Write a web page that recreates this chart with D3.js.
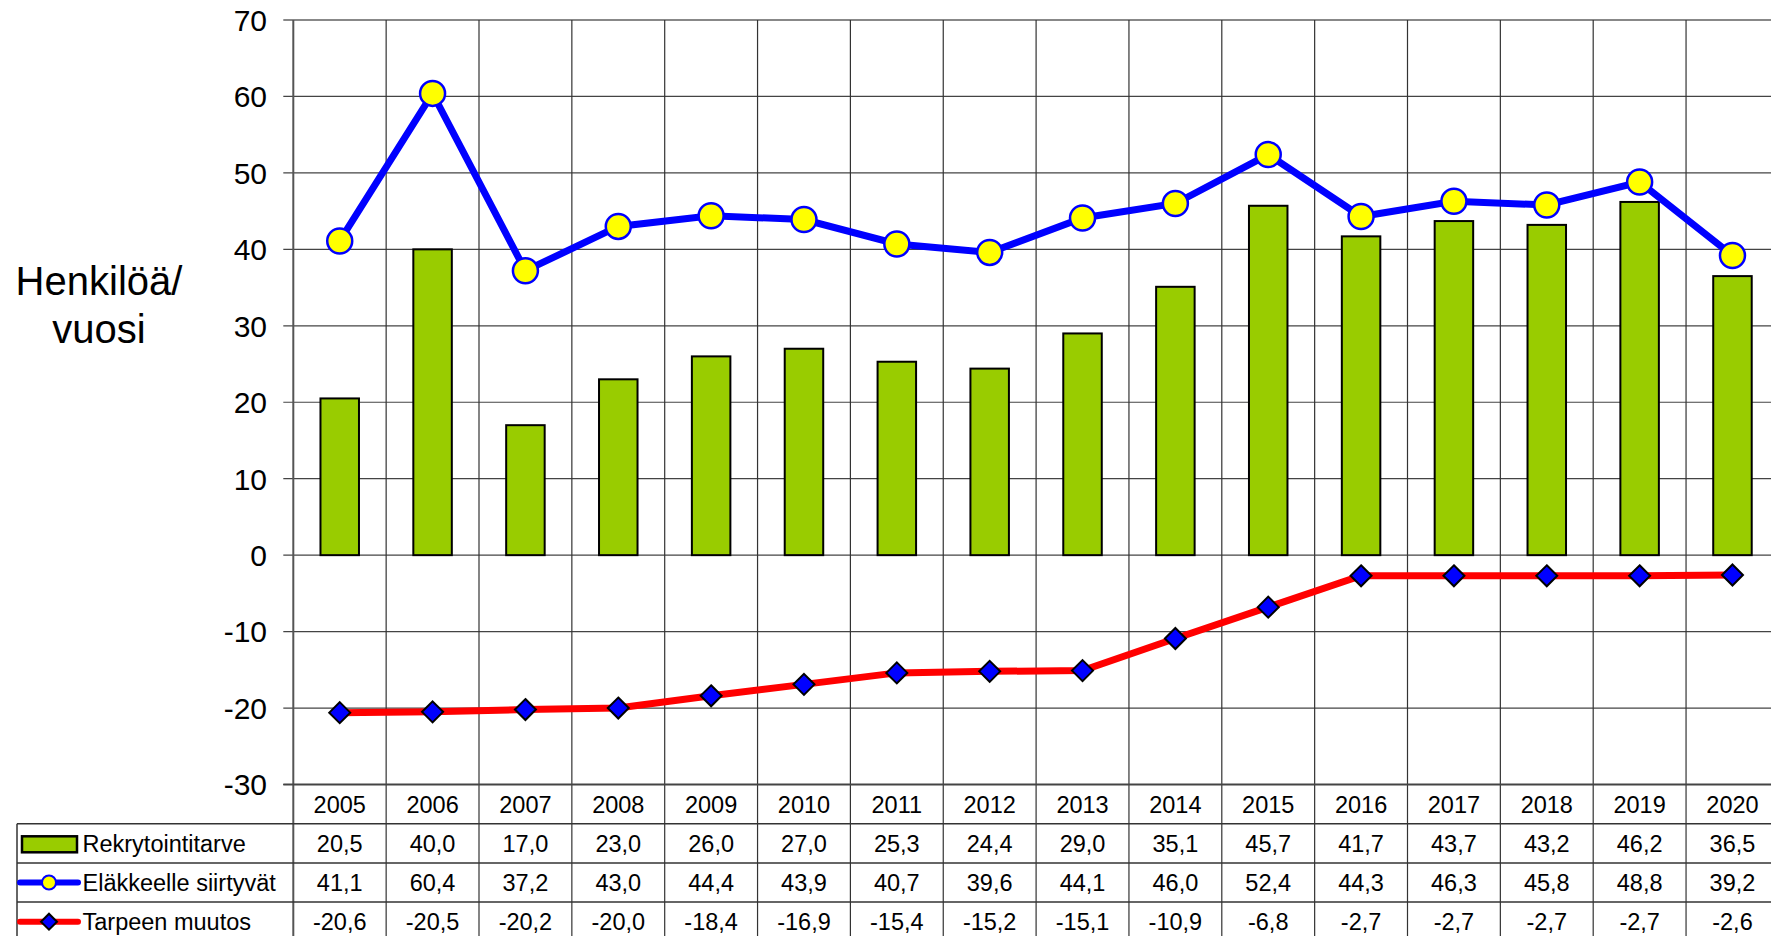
<!DOCTYPE html>
<html>
<head>
<meta charset="utf-8">
<script src="https://cdn.jsdelivr.net/npm/d3@7"></script>
<style>
  body { margin: 0; background: #fff; }
  svg { display: block; font-family: "Liberation Sans", Arial, sans-serif; }
</style>
</head>
<body>
<div id="chart"></div>
<script>
const years = ["2005","2006","2007","2008","2009","2010","2011","2012","2013","2014","2015","2016","2017","2018","2019","2020"];
const rekrytointitarve = [20.5, 40.0, 17.0, 23.0, 26.0, 27.0, 25.3, 24.4, 29.0, 35.1, 45.7, 41.7, 43.7, 43.2, 46.2, 36.5];
const elakkeelle = [41.1, 60.4, 37.2, 43.0, 44.4, 43.9, 40.7, 39.6, 44.1, 46.0, 52.4, 44.3, 46.3, 45.8, 48.8, 39.2];
const tarpeenMuutos = [-20.6, -20.5, -20.2, -20.0, -18.4, -16.9, -15.4, -15.2, -15.1, -10.9, -6.8, -2.7, -2.7, -2.7, -2.7, -2.6];
const yTicks = [70, 60, 50, 40, 30, 20, 10, 0, -10, -20, -30];
const seriesNames = ["Rekrytointitarve", "Eläkkeelle siirtyvät", "Tarpeen muutos"];

const W = 1771, H = 936;
const plot = {left: 293.3, top: 20, bottom: 784.5, colW: 92.85};
const tableLeft = 17;
const rowH = 39.2;

const svg = d3.select("#chart").append("svg")
  .attr("width", W).attr("height", H);

const x = d3.scaleBand()
  .domain(years)
  .range([plot.left, plot.left + plot.colW * years.length])
  .paddingInner(0).paddingOuter(0);

const y = d3.scaleLinear()
  .domain([-30, 70])
  .range([plot.bottom, plot.top]);

const plotRight = plot.left + plot.colW * years.length;
const fmt = v => d3.format(".1f")(v).replace(".", ",").replace("−", "-");

// horizontal grid
svg.append("g")
  .selectAll("line")
  .data(yTicks)
  .join("line")
  .attr("x1", plot.left - 10)
  .attr("x2", plotRight)
  .attr("y1", d => y(d))
  .attr("y2", d => y(d))
  .attr("stroke", d => d === 70 ? "#888" : "#444")
  .attr("stroke-width", d => d === 70 ? 2 : 1.2);

// vertical grid (column boundaries, plot and table)
const tableBottom = plot.bottom + rowH * 4;
svg.append("g")
  .selectAll("line")
  .data(years.slice(1))
  .join("line")
  .attr("x1", d => x(d))
  .attr("x2", d => x(d))
  .attr("y1", plot.top)
  .attr("y2", tableBottom)
  .attr("stroke", "#333")
  .attr("stroke-width", 1.2);

// left axis line
svg.append("line")
  .attr("x1", plot.left).attr("x2", plot.left)
  .attr("y1", plot.top).attr("y2", tableBottom)
  .attr("stroke", "#555").attr("stroke-width", 2);

// y tick labels
svg.append("g")
  .selectAll("text")
  .data(yTicks)
  .join("text")
  .attr("x", 267)
  .attr("y", d => y(d))
  .attr("dy", "0.36em")
  .attr("text-anchor", "end")
  .attr("font-size", 30)
  .text(d => d);

// y axis title
const yTitle = svg.append("text")
  .attr("text-anchor", "middle")
  .attr("font-size", 40);
yTitle.append("tspan").attr("x", 99).attr("y", 295).text("Henkilöä/");
yTitle.append("tspan").attr("x", 99).attr("y", 343).text("vuosi");

// bars
const barW = 38.5;
svg.append("g")
  .selectAll("rect")
  .data(rekrytointitarve)
  .join("rect")
  .attr("x", (d, i) => x(years[i]) + x.bandwidth() / 2 - barW / 2)
  .attr("width", barW)
  .attr("y", d => y(d))
  .attr("height", d => y(0) - y(d))
  .attr("fill", "#99cc00")
  .attr("stroke", "#000")
  .attr("stroke-width", 2);

const cx = i => x(years[i]) + x.bandwidth() / 2;

// red line
svg.append("path")
  .datum(tarpeenMuutos)
  .attr("fill", "none")
  .attr("stroke", "#ff0000")
  .attr("stroke-width", 7)
  .attr("d", d3.line().x((d, i) => cx(i)).y(d => y(d)));

// blue line
svg.append("path")
  .datum(elakkeelle)
  .attr("fill", "none")
  .attr("stroke", "#0000ff")
  .attr("stroke-width", 7)
  .attr("d", d3.line().x((d, i) => cx(i)).y(d => y(d)));

// diamonds
const dia = 10.5;
svg.append("g")
  .selectAll("path")
  .data(tarpeenMuutos)
  .join("path")
  .attr("d", (d, i) => {
    const px = cx(i), py = y(d);
    return `M${px},${py - dia}L${px + dia},${py}L${px},${py + dia}L${px - dia},${py}Z`;
  })
  .attr("fill", "#0000ff")
  .attr("stroke", "#000")
  .attr("stroke-width", 2);

// circles
svg.append("g")
  .selectAll("circle")
  .data(elakkeelle)
  .join("circle")
  .attr("cx", (d, i) => cx(i))
  .attr("cy", d => y(d))
  .attr("r", 12.5)
  .attr("fill", "#ffff00")
  .attr("stroke", "#0000ff")
  .attr("stroke-width", 2.5);

// ----- data table -----
const table = svg.append("g");

// row lines
[1, 2, 3].forEach(r => {
  table.append("line")
    .attr("x1", tableLeft).attr("x2", plotRight)
    .attr("y1", plot.bottom + rowH * r).attr("y2", plot.bottom + rowH * r)
    .attr("stroke", "#333").attr("stroke-width", 1.5);
});
table.append("line")
  .attr("x1", tableLeft).attr("x2", tableLeft)
  .attr("y1", plot.bottom + rowH).attr("y2", tableBottom)
  .attr("stroke", "#333").attr("stroke-width", 1.5);
// x axis line (bottom of plot)
table.append("line")
  .attr("x1", plot.left - 10).attr("x2", plotRight)
  .attr("y1", plot.bottom).attr("y2", plot.bottom)
  .attr("stroke", "#444").attr("stroke-width", 2);

// year header
table.append("g")
  .selectAll("text")
  .data(years)
  .join("text")
  .attr("x", d => x(d) + x.bandwidth() / 2)
  .attr("y", plot.bottom + rowH / 2)
  .attr("dy", "0.36em")
  .attr("text-anchor", "middle")
  .attr("font-size", 23.5)
  .text(d => d);

const rows = [rekrytointitarve, elakkeelle, tarpeenMuutos];
rows.forEach((vals, r) => {
  const rowY = plot.bottom + rowH * (r + 1) + rowH / 2;
  table.append("g")
    .selectAll("text")
    .data(vals)
    .join("text")
    .attr("x", (d, i) => cx(i))
    .attr("y", rowY)
    .attr("dy", "0.36em")
    .attr("text-anchor", "middle")
    .attr("font-size", 23.5)
    .text(d => fmt(d));

  table.append("text")
    .attr("x", 82.5)
    .attr("y", rowY)
    .attr("dy", "0.36em")
    .attr("font-size", 23.5)
    .text(seriesNames[r]);
});

// legend keys
const k1y = plot.bottom + rowH * 1.5;
table.append("rect")
  .attr("x", 22).attr("y", k1y - 7).attr("width", 55).attr("height", 16)
  .attr("fill", "#99cc00").attr("stroke", "#000").attr("stroke-width", 2.5);

const k2y = plot.bottom + rowH * 2.5;
table.append("line")
  .attr("x1", 20).attr("x2", 78).attr("y1", k2y).attr("y2", k2y)
  .attr("stroke", "#0000ff").attr("stroke-width", 6).attr("stroke-linecap", "round");
table.append("circle")
  .attr("cx", 49).attr("cy", k2y).attr("r", 7)
  .attr("fill", "#ffff00").attr("stroke", "#0000ff").attr("stroke-width", 2);

const k3y = plot.bottom + rowH * 3.5;
table.append("line")
  .attr("x1", 20).attr("x2", 78).attr("y1", k3y).attr("y2", k3y)
  .attr("stroke", "#ff0000").attr("stroke-width", 6).attr("stroke-linecap", "round");
table.append("path")
  .attr("d", `M49,${k3y - 8}L57,${k3y}L49,${k3y + 8}L41,${k3y}Z`)
  .attr("fill", "#0000ff").attr("stroke", "#000").attr("stroke-width", 2);
</script>
</body>
</html>
